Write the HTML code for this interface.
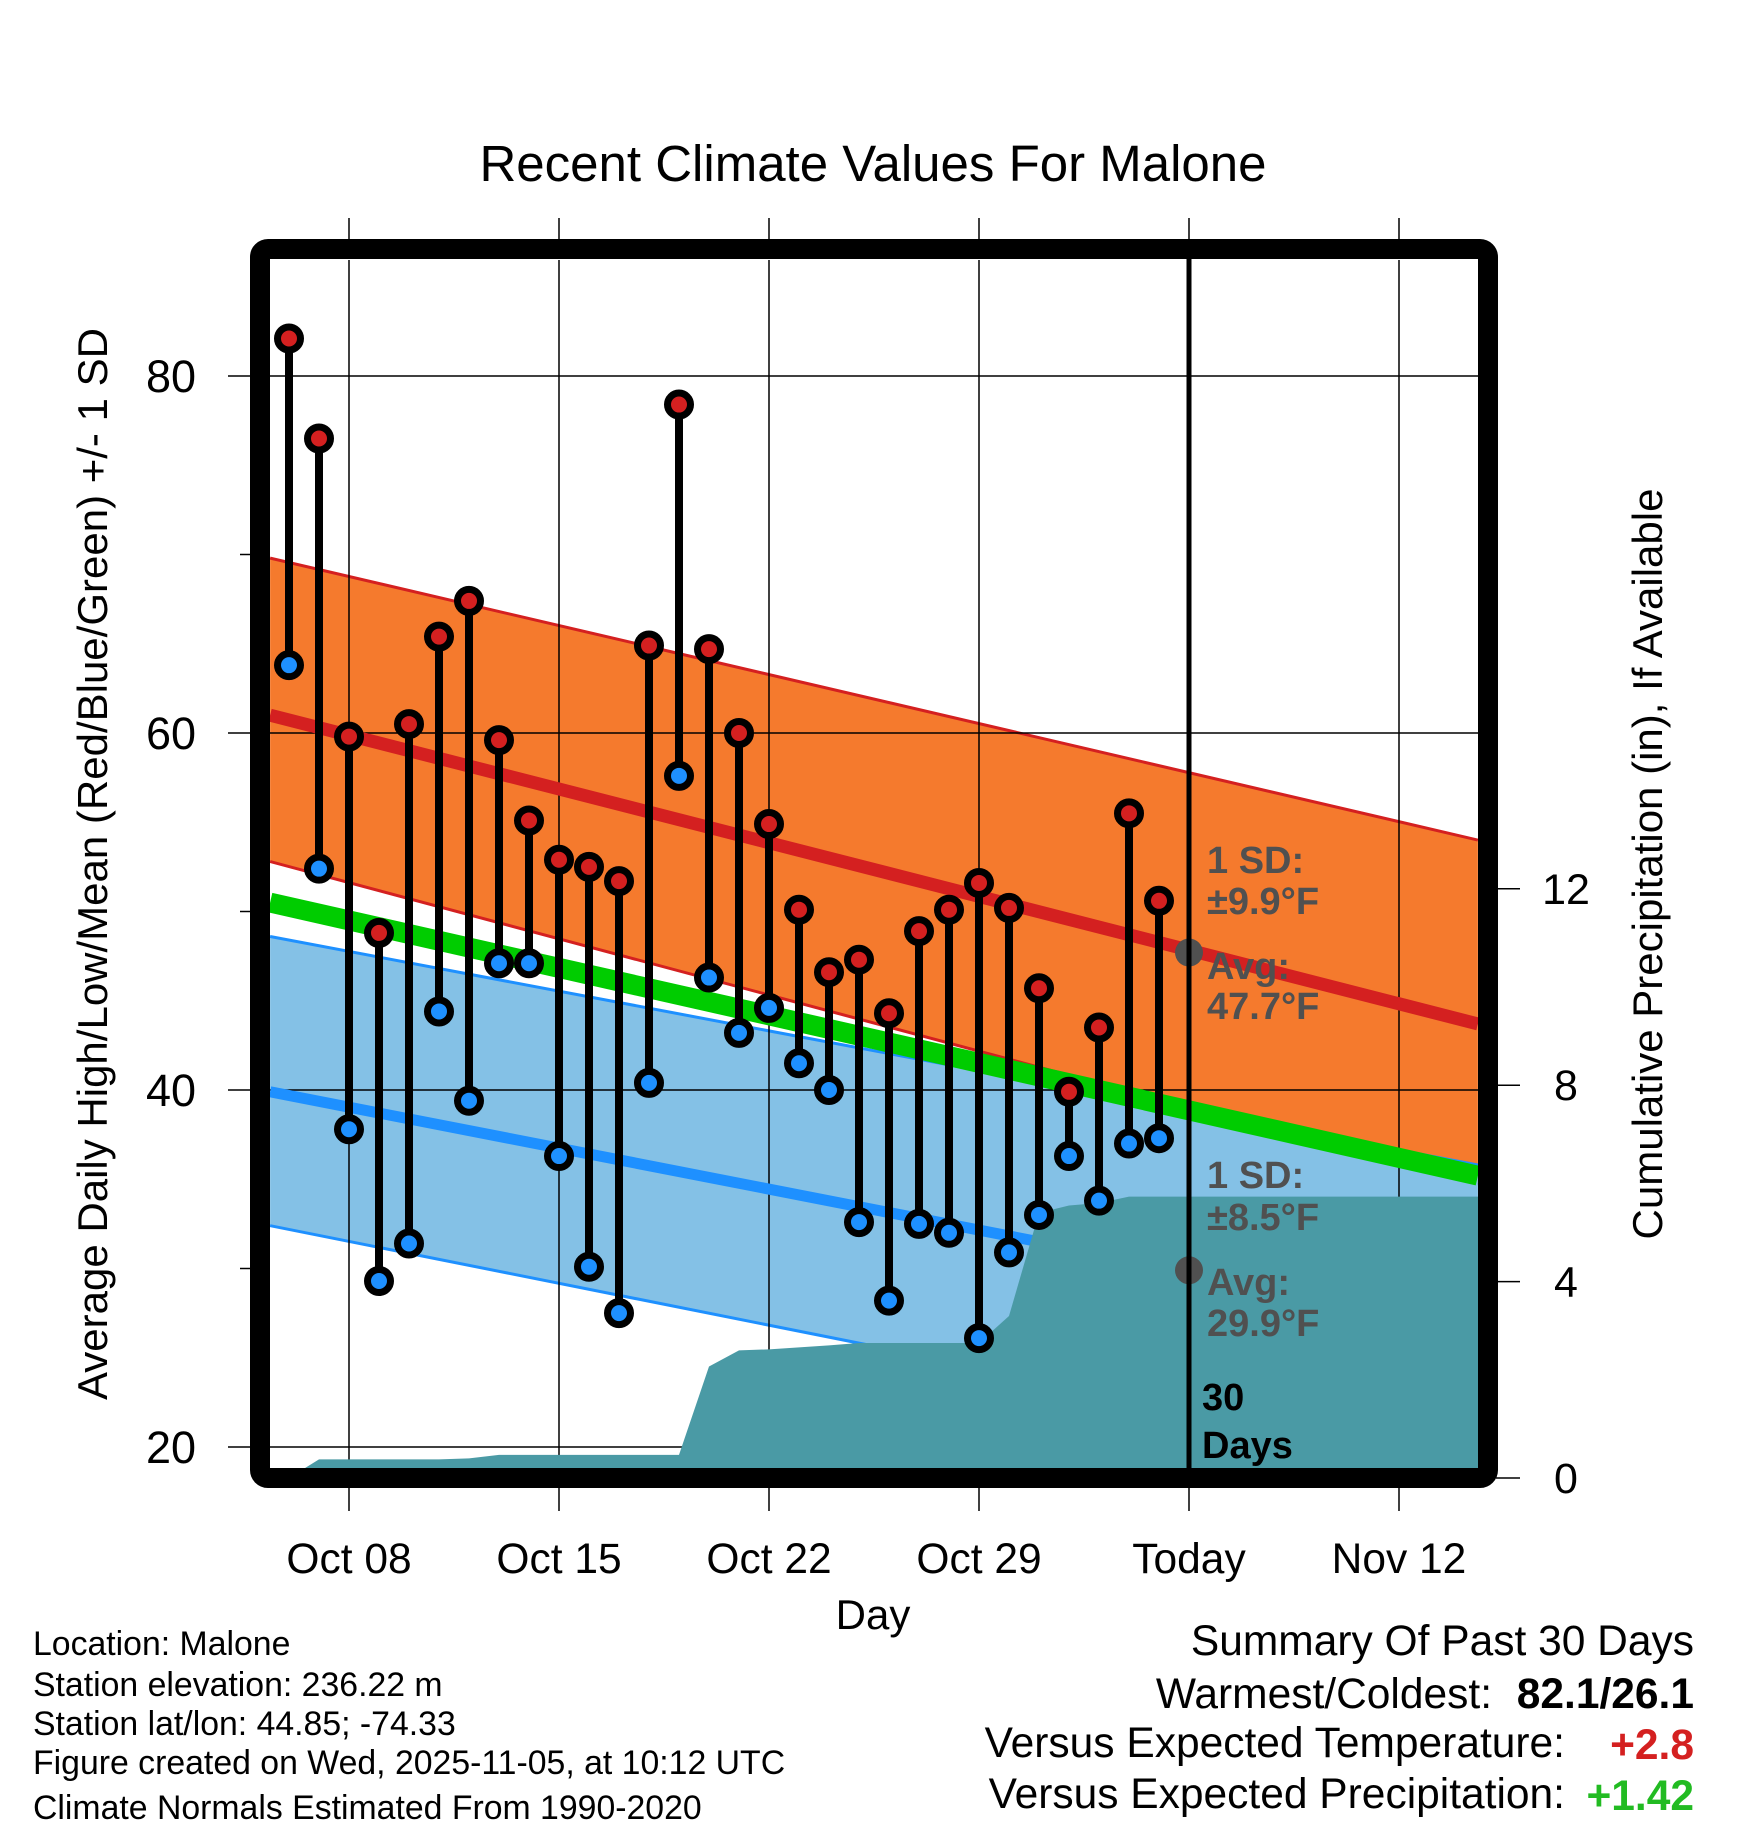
<!DOCTYPE html>
<html><head><meta charset="utf-8">
<style>
html,body{margin:0;padding:0;background:#fff;}
svg{display:block;font-family:"Liberation Sans",sans-serif;}
</style></head>
<body>
<svg id="chart" width="1748" height="1828" viewBox="0 0 1748 1828">
  <text x="873" y="181" font-size="51" text-anchor="middle">Recent Climate Values For Malone</text>
  <g id="plot"></g>
  <g id="axes"></g>
  <text transform="translate(107,864) rotate(-90)" font-size="42" text-anchor="middle">Average Daily High/Low/Mean (Red/Blue/Green) +/- 1 SD</text>
  <text transform="translate(1662,864) rotate(-90)" font-size="42" text-anchor="middle">Cumulative Precipitation (in), If Available</text>
  <text x="873" y="1629" font-size="42" text-anchor="middle">Day</text>
  <g font-size="33.8">
    <text x="33" y="1655">Location: Malone</text>
    <text x="33" y="1696">Station elevation: 236.22 m</text>
    <text x="33" y="1735">Station lat/lon: 44.85; -74.33</text>
    <text x="33" y="1774">Figure created on Wed, 2025-11-05, at 10:12 UTC</text>
    <text x="33" y="1819">Climate Normals Estimated From 1990-2020</text>
  </g>
  <g font-size="42.5">
    <text x="1694" y="1655" text-anchor="end">Summary Of Past 30 Days</text>
    <text x="1492" y="1708" text-anchor="end">Warmest/Coldest:</text>
    <text x="1694" y="1708" text-anchor="end" font-weight="bold">82.1/26.1</text>
    <text x="1565" y="1757" text-anchor="end">Versus Expected Temperature:</text>
    <text x="1694" y="1759" text-anchor="end" font-weight="bold" fill="#d42020">+2.8</text>
    <text x="1565" y="1808" text-anchor="end">Versus Expected Precipitation:</text>
    <text x="1694" y="1810" text-anchor="end" font-weight="bold" fill="#22bb22">+1.42</text>
  </g>
</svg>
<script>
// Data (day index: 0 = Oct 08)
const dayLabels = ["Oct 06","Oct 07","Oct 08","Oct 09","Oct 10","Oct 11","Oct 12","Oct 13","Oct 14","Oct 15","Oct 16","Oct 17","Oct 18","Oct 19","Oct 20","Oct 21","Oct 22","Oct 23","Oct 24","Oct 25","Oct 26","Oct 27","Oct 28","Oct 29","Oct 30","Oct 31","Nov 01","Nov 02","Nov 03","Nov 04"];
const dayIndex = [-2,-1,0,1,2,3,4,5,6,7,8,9,10,11,12,13,14,15,16,17,18,19,20,21,22,23,24,25,26,27];
const highs = [82.1,76.5,59.8,48.8,60.5,65.4,67.4,59.6,55.1,52.9,52.5,51.7,64.9,78.4,64.7,60.0,54.9,50.1,46.6,47.3,44.3,48.9,50.1,51.6,50.2,45.7,39.9,43.5,55.5,50.6];
const lows = [63.8,52.4,37.8,29.3,31.4,44.4,39.4,47.1,47.1,36.3,30.1,27.5,40.4,57.6,46.3,43.2,44.6,41.5,40.0,32.6,28.2,32.5,32.0,26.1,30.9,33.0,36.3,33.8,37.0,37.3];
const precipCum = [0.0,0.38,0.38,0.38,0.38,0.38,0.40,0.47,0.47,0.47,0.47,0.47,0.47,0.47,2.27,2.60,2.62,2.66,2.70,2.75,2.75,2.75,2.75,2.75,3.30,5.40,5.55,5.60,5.73,5.73];
// Normals at plot-range endpoints [left, right]
const normalRangeDays = [-2.63, 37.63];
const normHighMean = [61.0, 43.7];
const normHighUpper = [69.8, 54.0];
const normHighLower = [52.8, 34.7];
const normMean = [50.5, 35.2];
const normLowMean = [39.9, 26.7];
const normLowUpper = [48.6, 35.8];
const normLowLower = [32.4, 18.9];
const xTickDays = [0,7,14,21,28,35];
const xTickLabels = ["Oct 08","Oct 15","Oct 22","Oct 29","Today","Nov 12"];
const yTickValues = [20,40,60,80];
const yMinorValues = [30,50,70];
const y2TickValues = [0,4,8,12];
const todayDay = 28;
const todayHighAvg = 47.7;
const todayLowAvg = 29.9;

const NS = "http://www.w3.org/2000/svg";
const X0 = 270, X1 = 1478, Y0 = 260, Y1 = 1468;
function xDay(d){ return 349 + 30*d; }
function yT(v){ return 376 + (80 - v)*17.85; }
function yP(p){ return 1478 - p*49.1; }
function mk(tag, attrs, parent){
  const e = document.createElementNS(NS, tag);
  for (const k in attrs) e.setAttribute(k, attrs[k]);
  parent.appendChild(e);
  return e;
}
const plot = document.getElementById("plot");
const axes = document.getElementById("axes");
const defs = mk("defs", {}, plot);
const cp = mk("clipPath", {id:"clip"}, defs);
mk("rect", {x:X0, y:Y0, width:X1-X0, height:Y1-Y0}, cp);
const g = mk("g", {"clip-path":"url(#clip)"}, plot);

function band(up, lo, fill, edge, name){
  const xa = xDay(normalRangeDays[0]), xb = xDay(normalRangeDays[1]);
  const p = mk("polygon", {points:`${xa},${yT(up[0])} ${xb},${yT(up[1])} ${xb},${yT(lo[1])} ${xa},${yT(lo[0])}`, fill:fill}, g);
  
  
  [up, lo].forEach(a => {
    const l = mk("line", {x1:xa, y1:yT(a[0]), x2:xb, y2:yT(a[1]), stroke:edge, "stroke-width":3}, g);
    
    
  });
}
function nline(a, col, w, name){
  const xa = xDay(normalRangeDays[0]), xb = xDay(normalRangeDays[1]);
  const l = mk("line", {x1:xa, y1:yT(a[0]), x2:xb, y2:yT(a[1]), stroke:col, "stroke-width":w}, g);
  
  
}
band(normHighUpper, normHighLower, "#f57a2d", "#d42020", "high-sd-band");
band(normLowUpper, normLowLower, "#84c1e6", "#1e90ff", "low-sd-band");

// grid
xTickDays.forEach(d => {
  const l = mk("line", {x1:xDay(d), y1:Y0, x2:xDay(d), y2:Y1, stroke:"#000", "stroke-width":1.5}, g);
  
  
});
yTickValues.forEach(v => {
  const l = mk("line", {x1:X0, y1:yT(v), x2:X1, y2:yT(v), stroke:"#000", "stroke-width":1.5}, g);
  
  
});

nline(normHighMean, "#d42020", 13, "normal-high-line");
nline(normLowMean, "#1e90ff", 11, "normal-low-line");
nline(normMean, "#00cc00", 20, "normal-mean-line");

// precip area
let pts = `${xDay(dayIndex[0])},${Y1} `;
dayIndex.forEach((d,i) => { pts += `${xDay(d)},${yP(precipCum[i])} `; });
pts += `${X1},${yP(precipCum[precipCum.length-1])} ${X1},${Y1}`;
const area = mk("polygon", {points:pts, fill:"#4a9aa5"}, g);



// today line
const tl = mk("line", {x1:xDay(todayDay), y1:250, x2:xDay(todayDay), y2:Y1, stroke:"#000", "stroke-width":5}, plot);



// stems and dots
dayIndex.forEach((d,i) => {
  const x = xDay(d);
  const s = mk("line", {x1:x, y1:yT(highs[i]), x2:x, y2:yT(lows[i]), stroke:"#000", "stroke-width":8}, g);
  
  
});
dayIndex.forEach((d,i) => {
  const x = xDay(d);
  const h = mk("circle", {cx:x, cy:yT(highs[i]), r:11.5, fill:"#d42020", stroke:"#000", "stroke-width":7}, g);
  
  
  const lo = mk("circle", {cx:x, cy:yT(lows[i]), r:11.5, fill:"#1e90ff", stroke:"#000", "stroke-width":7}, g);
  
  
});

// today avg markers
[todayHighAvg, todayLowAvg].forEach(v => {
  const c = mk("circle", {cx:xDay(todayDay), cy:yT(v), r:14, fill:"#505050"}, g);
  
  
});

// annotations
const ann = [["1 SD:",873],["\u00b19.9\u00b0F",914],["Avg:",979],["47.7\u00b0F",1019],["1 SD:",1188],["\u00b18.5\u00b0F",1230],["Avg:",1295],["29.9\u00b0F",1336]];
ann.forEach(a => {
  const t = mk("text", {x:1207, y:a[1], "font-size":38, "font-weight":"bold", fill:"#505050"}, g);
  t.textContent = a[0];
  
  
});
[["30",1410],["Days",1458]].forEach(a => {
  const t = mk("text", {x:1202, y:a[1], "font-size":38, "font-weight":"bold", fill:"#000"}, g);
  t.textContent = a[0];
  
  
});

// frame
const fr = mk("rect", {x:260, y:249, width:1228, height:1229, rx:8, fill:"none", stroke:"#000", "stroke-width":20}, axes);



// x ticks
xTickDays.forEach((d,i) => {
  const x = xDay(d);
  const a = mk("line", {x1:x, y1:218, x2:x, y2:240, stroke:"#000", "stroke-width":1.5}, axes);
  
  
  const b = mk("line", {x1:x, y1:1488, x2:x, y2:1511, stroke:"#000", "stroke-width":1.5}, axes);
  
  
  const t = mk("text", {x:x, y:1573, "font-size":42.5, "text-anchor":"middle"}, axes);
  t.textContent = xTickLabels[i];
  
  
});
// y ticks
yTickValues.forEach(v => {
  const l = mk("line", {x1:228, y1:yT(v), x2:252, y2:yT(v), stroke:"#000", "stroke-width":1.5}, axes);
  
  
  const t = mk("text", {x:196, y:yT(v)+16, "font-size":45, "text-anchor":"end"}, axes);
  t.textContent = v;
  
  
});
yMinorValues.forEach(v => {
  const l = mk("line", {x1:240, y1:yT(v), x2:252, y2:yT(v), stroke:"#000", "stroke-width":1.5}, axes);
  
  
});
y2TickValues.forEach(v => {
  const l = mk("line", {x1:1496, y1:yP(v), x2:1520, y2:yP(v), stroke:"#000", "stroke-width":1.5}, axes);
  
  
  const t = mk("text", {x:1566, y:yP(v)+15, "font-size":43, "text-anchor":"middle"}, axes);
  t.textContent = v;
  
  
});
</script>
</body></html>
